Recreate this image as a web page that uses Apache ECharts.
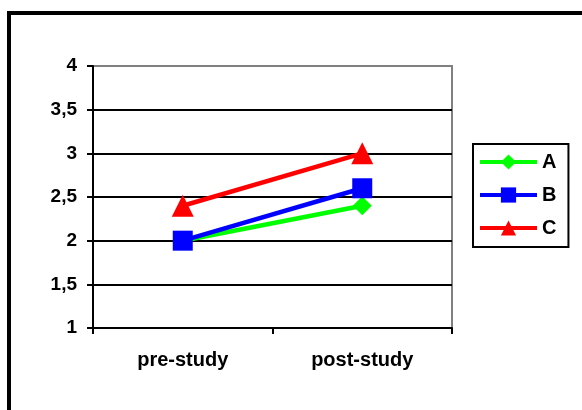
<!DOCTYPE html>
<html>
<head>
<meta charset="utf-8">
<style>
  html, body { margin: 0; padding: 0; background: #fff; }
  #chart { width: 582px; height: 410px; }
</style>
<script src="https://cdn.jsdelivr.net/npm/echarts@6/dist/echarts.min.js"></script>
</head>
<body>
<div id="chart"></div>
<script>
// Study phases on the x axis
const categories = ['pre-study', 'post-study'];
// Mean scores per group
const seriesA = [2, 2.4];
const seriesB = [2, 2.6];
const seriesC = [2.4, 3];
// Y axis range and step
const yMin = 1;
const yMax = 4;
const yStep = 0.5;

const chart = echarts.init(document.getElementById('chart'), null, { renderer: 'canvas' });

const fontBase = {
  fontFamily: 'Liberation Sans, Arial, sans-serif',
  fontWeight: 'bold',
  color: '#000'
};

function lineSeries(name, data, color, symbol, size) {
  return {
    name: name,
    type: 'line',
    data: data,
    symbol: symbol,
    symbolSize: size,
    showAllSymbol: true,
    lineStyle: { color: color, width: 4.5 },
    itemStyle: { color: color },
    emphasis: { disabled: true },
    z: 3
  };
}

chart.setOption({
  animation: false,
  backgroundColor: '#fff',
  graphic: [{
    type: 'rect',
    shape: { x: 9, y: 13, width: 600, height: 420 },
    style: { fill: 'none', stroke: '#000', lineWidth: 4 },
    silent: true
  }],
  grid: {
    left: 93, top: 66, right: 130, bottom: 82,
    show: true,
    borderColor: '#808080',
    borderWidth: 2,
    backgroundColor: 'transparent'
  },
  legend: {
    orient: 'vertical',
    left: 473,
    top: 144,
    itemWidth: 57,
    itemHeight: 19,
    itemGap: 13,
    padding: [8, 12, 9, 5],
    borderColor: '#000',
    borderWidth: 2,
    lineStyle: { width: 4 },
    textStyle: Object.assign({}, fontBase, { fontSize: 20 }),
    data: ['A', 'B', 'C']
  },
  xAxis: {
    type: 'category',
    data: categories,
    boundaryGap: true,
    axisLine: { lineStyle: { color: '#000', width: 2 } },
    axisTick: { show: true, alignWithLabel: false, length: 6, lineStyle: { color: '#000', width: 2 } },
    axisLabel: Object.assign({}, fontBase, { fontSize: 20, margin: 22 }),
    splitLine: { show: false }
  },
  yAxis: {
    type: 'value',
    min: yMin,
    max: yMax,
    interval: yStep,
    axisLine: { show: true, lineStyle: { color: '#000', width: 2 } },
    axisTick: { show: true, length: 6, lineStyle: { color: '#000', width: 2 } },
    axisLabel: Object.assign({}, fontBase, {
      fontSize: 19,
      margin: 16,
      formatter: v => String(v).replace('.', ',')
    }),
    splitLine: {
      show: true,
      lineStyle: {
        color: ['#000', '#000', '#000', '#000', '#000', '#000', '#808080'],
        width: 2
      }
    }
  },
  series: [
    lineSeries('A', seriesA, '#00ff00', 'diamond', 19),
    lineSeries('B', seriesB, '#0000ff', 'rect', 20),
    lineSeries('C', seriesC, '#ff0000', 'triangle', 22)
  ]
});
</script>
</body>
</html>
